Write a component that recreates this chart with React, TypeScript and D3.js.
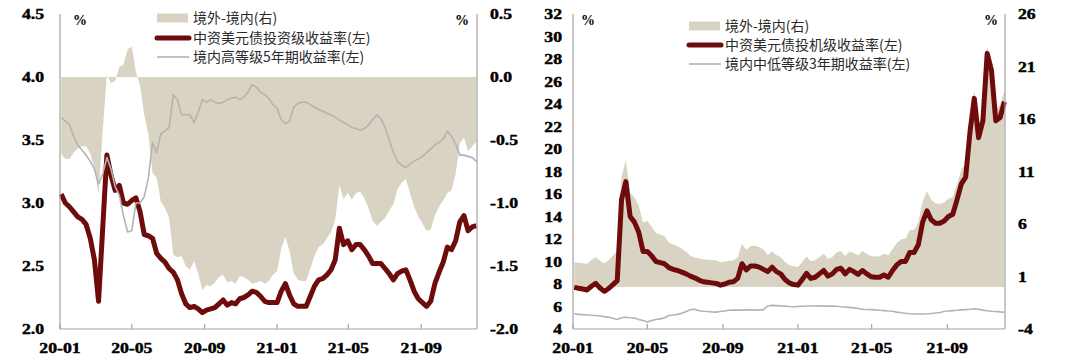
import React from "react";
import * as d3 from "d3";

// ---------- categories / ticks ----------
const firstWeek = new Date(2020, 0, 3);
const xDomain = [new Date(2020, 0, 1), new Date(2021, 11, 4)];
const xTickDates = ["2020-01-01", "2020-05-01", "2020-09-01", "2021-01-01", "2021-05-01", "2021-09-01"];
const xTickLabels = ["20-01", "20-05", "20-09", "21-01", "21-05", "21-09"];

const igLeftTicks = [2.0, 2.5, 3.0, 3.5, 4.0, 4.5];
const igRightTicks = [-2.0, -1.5, -1.0, -0.5, 0.0, 0.5];
const hyLeftTicks = [4, 6, 8, 10, 12, 14, 16, 18, 20, 22, 24, 26, 28, 30, 32];
const hyRightTicks = [-4, 1, 6, 11, 16, 21, 26];

const igLegend = ["境外-境内(右)", "中资美元债投资级收益率(左)", "境内高等级5年期收益率(左)"];
const hyLegend = ["境外-境内(右)", "中资美元债投机级收益率(左)", "境内中低等级3年期收益率(左)"];

// ---------- weekly series (left chart) ----------
const igYield = [
  3.07, 3.0, 2.97, 2.93, 2.89, 2.87, 2.83, 2.72, 2.55, 2.22,
  2.8, 3.38, 3.22, 3.1, 3.14, 3.0, 2.99, 3.02, 3.04, 2.93,
  2.75, 2.74, 2.72, 2.6, 2.56, 2.53, 2.48, 2.45, 2.39, 2.28,
  2.2, 2.17, 2.18, 2.16, 2.13, 2.15, 2.16, 2.17, 2.2, 2.23,
  2.19, 2.21, 2.2, 2.24, 2.25, 2.27, 2.3, 2.29, 2.26, 2.22,
  2.21, 2.21, 2.21, 2.3, 2.36, 2.27, 2.2, 2.18, 2.18, 2.18,
  2.26, 2.34, 2.39, 2.4, 2.43, 2.47, 2.55, 2.8, 2.67, 2.7,
  2.63, 2.67, 2.67, 2.63, 2.58, 2.52, 2.52, 2.52, 2.48, 2.44,
  2.39, 2.44, 2.46, 2.47, 2.39, 2.3, 2.24, 2.21, 2.18, 2.22,
  2.36, 2.45, 2.53, 2.65, 2.63, 2.7, 2.85, 2.9, 2.78, 2.81,
  2.82,
];
const hgYield5y = [
  3.68, 3.65, 3.62, 3.53, 3.46, 3.42, 3.38, 3.33, 3.27, 3.15,
  3.23, 3.36, 3.27, 3.13, 3.06, 2.9, 2.77, 2.78, 3.0, 3.0,
  3.05, 3.2, 3.48, 3.4, 3.55, 3.57, 3.6, 3.86, 3.82, 3.7,
  3.7, 3.7, 3.64, 3.72, 3.82, 3.8, 3.82, 3.8, 3.79, 3.8,
  3.82, 3.83, 3.84, 3.82, 3.84, 3.88, 3.94, 3.92, 3.88, 3.86,
  3.83, 3.78, 3.75, 3.66, 3.63, 3.65, 3.76, 3.79, 3.8, 3.8,
  3.78, 3.76, 3.74, 3.73, 3.71, 3.7, 3.68, 3.66, 3.64, 3.62,
  3.6, 3.59, 3.58, 3.59, 3.62, 3.66, 3.7, 3.67, 3.6, 3.5,
  3.4, 3.33, 3.3, 3.28, 3.31, 3.33, 3.35, 3.37, 3.4, 3.43,
  3.46, 3.48, 3.51, 3.57, 3.53, 3.47, 3.38, 3.38, 3.37, 3.36,
  3.33,
];
const igSpread = [
  -0.61, -0.65, -0.65, -0.6, -0.57, -0.55, -0.55, -0.61, -0.72, -0.93,
  -0.43, 0.02, -0.05, -0.03, 0.08, 0.1, 0.22, 0.24, 0.04, -0.07,
  -0.3, -0.46, -0.76, -0.8, -0.99, -1.04, -1.12, -1.41, -1.43, -1.42,
  -1.5, -1.53, -1.46, -1.56, -1.69, -1.65, -1.66, -1.63, -1.59, -1.57,
  -1.63, -1.62, -1.64, -1.58, -1.59, -1.61, -1.64, -1.63, -1.62, -1.64,
  -1.62, -1.57, -1.54, -1.36, -1.27, -1.38, -1.56, -1.61, -1.62, -1.62,
  -1.52, -1.42, -1.35, -1.33, -1.28, -1.23, -1.13, -0.86, -0.97, -0.92,
  -0.97, -0.92, -0.91, -0.96, -1.04, -1.14, -1.18, -1.15, -1.12, -1.06,
  -1.01, -0.89, -0.84, -0.81, -0.92, -1.03, -1.11, -1.16, -1.22, -1.21,
  -1.1, -1.03, -0.98, -0.92, -0.9, -0.77, -0.53, -0.48, -0.59, -0.55,
  -0.51,
];

// ---------- weekly series (right chart) ----------
const hyYield = [
  7.7, 7.62, 7.55, 7.47, 7.8, 8.05, 7.65, 7.35, 7.6, 7.95,
  8.3, 15.5, 17.1, 14.0, 13.5, 12.6, 10.9, 10.9, 10.5, 10.0,
  9.9, 9.8, 9.45, 9.3, 9.2, 9.05, 8.9, 8.7, 8.55, 8.35,
  8.2, 8.15, 8.1, 8.05, 7.9, 8.0, 8.15, 8.2, 8.5, 9.8,
  9.25, 9.6, 9.6, 9.5, 9.3, 9.1, 9.5, 9.1, 8.9, 8.4,
  8.1, 7.95, 7.9, 8.4, 8.95, 8.5, 8.6, 8.9, 9.2, 8.7,
  8.9, 9.3, 9.4, 8.9, 9.3, 9.1, 8.85, 9.2, 8.9, 8.65,
  8.6, 8.6, 8.8, 8.6, 9.2, 9.7, 10.0, 10.0, 10.8, 10.8,
  11.5, 13.5, 14.5, 13.7, 13.4, 13.4, 13.6, 14.0, 14.2, 15.5,
  16.9, 17.5, 21.5, 24.5, 21.0, 22.5, 28.5, 27.0, 22.5, 22.8,
  24.2,
];
const lmgYield3y = [
  5.35, 5.3, 5.28, 5.25, 5.22, 5.2, 5.15, 5.1, 5.05, 4.95,
  4.85, 5.0, 5.05, 5.0, 4.97, 4.85, 4.75, 4.62, 4.75, 4.85,
  4.9, 5.0, 5.2, 5.25, 5.3, 5.4, 5.55, 5.72, 5.75, 5.62,
  5.58, 5.55, 5.52, 5.5, 5.55, 5.6, 5.66, 5.68, 5.68, 5.68,
  5.7, 5.7, 5.68, 5.7, 5.72, 6.05, 6.1, 6.08, 6.05, 6.03,
  6.0, 5.98, 6.0, 6.02, 6.04, 6.04, 6.05, 6.06, 6.04, 6.03,
  6.04, 6.02, 5.98, 5.95, 5.92, 5.88, 5.82, 5.76, 5.73, 5.72,
  5.7, 5.66, 5.63, 5.6, 5.58, 5.5, 5.45, 5.4, 5.36, 5.34,
  5.33, 5.33, 5.35, 5.38, 5.42, 5.47, 5.55, 5.6, 5.63, 5.66,
  5.7, 5.72, 5.75, 5.8, 5.75, 5.68, 5.62, 5.58, 5.55, 5.52,
  5.5,
];
const hySpread = [
  2.35, 2.32, 2.27, 2.22, 2.58, 2.85, 2.5, 2.25, 2.55, 3.0,
  3.45, 10.5, 12.05, 9.0, 8.53, 7.75, 6.15, 6.28, 5.75, 5.15,
  5.0, 4.8, 4.25, 4.05, 3.9, 3.65, 3.35, 2.98, 2.8, 2.73,
  2.62, 2.6, 2.58, 2.55, 2.35, 2.4, 2.49, 2.52, 2.82, 4.12,
  3.55, 3.9, 3.92, 3.8, 3.58, 3.05, 3.4, 3.02, 2.85, 2.37,
  2.1, 1.97, 1.9, 2.38, 2.91, 2.46, 2.55, 2.84, 3.16, 2.67,
  2.86, 3.28, 3.42, 2.95, 3.38, 3.22, 3.03, 3.44, 3.17, 2.93,
  2.9, 2.94, 3.17, 3.0, 3.62, 4.2, 4.55, 4.6, 5.44, 5.46,
  6.17, 8.17, 9.15, 8.32, 7.98, 7.93, 8.05, 8.4, 8.57, 9.84,
  11.2, 11.78, 15.75, 18.7, 15.25, 16.82, 22.88, 21.42, 16.95, 17.28,
  18.7,
];

const AREA = "#d8d3c3";
const RED = "#6e0b0b";
const GRAY = "#b3b3b3";
const AXIS = "#a3a3a3";
const TOP = 14;
const BOTTOM = 329;
const SERIF = "'Liberation Serif', 'Times New Roman', serif";
const CJK = "'Noto Sans CJK SC', 'Noto Sans', sans-serif";

function Num({ x, y, anchor, text, dy }: { x: number; y: number; anchor: string; text: string; dy?: string }) {
  return (
    <g transform={`translate(${x},${y}) scale(1.18,1)`}>
      <text
        textAnchor={anchor as any}
        dy={dy ?? "0"}
        fontFamily={SERIF}
        fontWeight="bold"
        fontSize={15}
        fill="#000"
        stroke="#000"
        strokeWidth={0.45}
      >
        {text}
      </text>
    </g>
  );
}

type PanelProps = {
  x0: number;
  x1: number;
  leftDomain: [number, number];
  rightDomain: [number, number];
  leftTicks: number[];
  rightTicks: number[];
  fmt: (v: number) => string;
  leftLabelX: number;
  rightLabelX: number;
  pctLeftX: number;
  pctRightX: number;
  main: number[];
  domestic: number[];
  spread: number[];
  legend: string[];
  legendX: number;
  legendYs: number[];
};

function Panel(p: PanelProps) {
  const x = d3.scaleTime().domain(xDomain).range([p.x0, p.x1]);
  const yL = d3.scaleLinear().domain(p.leftDomain).range([BOTTOM, TOP]);
  const yR = d3.scaleLinear().domain(p.rightDomain).range([BOTTOM, TOP]);
  const dates = p.spread.map((_, i) => d3.timeDay.offset(firstWeek, 7 * i));

  const area = d3
    .area<number>()
    .x((_, i) => x(dates[i]))
    .y0(yR(0))
    .y1((d) => yR(d))(p.spread) as string;
  const lineL = d3
    .line<number>()
    .x((_, i) => x(dates[i]))
    .y((d) => yL(d));
  const parse = d3.timeParse("%Y-%m-%d");

  return (
    <g>
      <path d={area} fill={AREA} stroke="none" />
      <path d={lineL(p.main) as string} fill="none" stroke={RED} strokeWidth={5} strokeLinejoin="round" />
      <path d={lineL(p.domestic) as string} fill="none" stroke={GRAY} strokeWidth={1.6} strokeLinejoin="round" />

      <line x1={p.x0} x2={p.x0} y1={TOP} y2={BOTTOM} stroke={AXIS} strokeWidth={1.2} />
      <line x1={p.x1} x2={p.x1} y1={TOP} y2={BOTTOM} stroke={AXIS} strokeWidth={1.2} />
      <line x1={p.x0} x2={p.x1} y1={BOTTOM} y2={BOTTOM} stroke={AXIS} strokeWidth={1.2} />
      {xTickDates.map((d, i) => {
        const xx = x(parse(d) as Date);
        return (
          <g key={d}>
            <line x1={xx} x2={xx} y1={BOTTOM} y2={BOTTOM - 5} stroke={AXIS} strokeWidth={1.2} />
            <Num x={xx} y={353} anchor="middle" text={xTickLabels[i]} />
          </g>
        );
      })}
      {p.leftTicks.map((t) => (
        <Num key={"l" + t} x={p.leftLabelX} y={yL(t)} anchor="end" dy="0.35em" text={p.fmt(t)} />
      ))}
      {p.rightTicks.map((t) => (
        <Num key={"r" + t} x={p.rightLabelX} y={yR(t)} anchor="start" dy="0.35em" text={p.fmt(t)} />
      ))}
      <text x={p.pctLeftX} y={20} dy="0.35em" textAnchor="middle" fontFamily={SERIF} fontWeight="bold" fontSize={14}>%</text>
      <text x={p.pctRightX} y={20} dy="0.35em" textAnchor="middle" fontFamily={SERIF} fontWeight="bold" fontSize={14}>%</text>

      <rect x={p.legendX} y={p.legendYs[0] - 4.5} width={31} height={9} fill={AREA} />
      <line x1={p.legendX} x2={p.legendX + 32} y1={p.legendYs[1]} y2={p.legendYs[1]} stroke={RED} strokeWidth={5} strokeLinecap="round" />
      <line x1={p.legendX} x2={p.legendX + 32} y1={p.legendYs[2]} y2={p.legendYs[2]} stroke={GRAY} strokeWidth={1.6} />
      {p.legend.map((s, i) => (
        <text key={s} x={p.legendX + 36} y={p.legendYs[i]} dy="0.35em" fill="#2a2a2a" fontFamily={CJK} fontSize={14}>
          {s}
        </text>
      ))}
    </g>
  );
}

export default function App() {
  return (
    <svg
      width={1080}
      height={358}
      viewBox="0 0 1080 358"
      style={{ position: "absolute", left: 0, top: 0, background: "#fff" }}
    >
      <rect width={1080} height={358} fill="#fff" />
      <Panel
        x0={60}
        x1={477}
        leftDomain={[2.0, 4.5]}
        rightDomain={[-2.0, 0.5]}
        leftTicks={igLeftTicks}
        rightTicks={igRightTicks}
        fmt={(v) => v.toFixed(1)}
        leftLabelX={44}
        rightLabelX={490}
        pctLeftX={80}
        pctRightX={462}
        main={igYield}
        domestic={hgYield5y}
        spread={igSpread}
        legend={igLegend}
        legendX={157}
        legendYs={[18, 38, 57]}
      />
      <Panel
        x0={573}
        x1={1005}
        leftDomain={[4, 32]}
        rightDomain={[-4, 26]}
        leftTicks={hyLeftTicks}
        rightTicks={hyRightTicks}
        fmt={(v) => String(v)}
        leftLabelX={562}
        rightLabelX={1018}
        pctLeftX={588}
        pctRightX={991}
        main={hyYield}
        domestic={lmgYield3y}
        spread={hySpread}
        legend={hyLegend}
        legendX={689}
        legendYs={[26, 45, 64]}
      />
    </svg>
  );
}
